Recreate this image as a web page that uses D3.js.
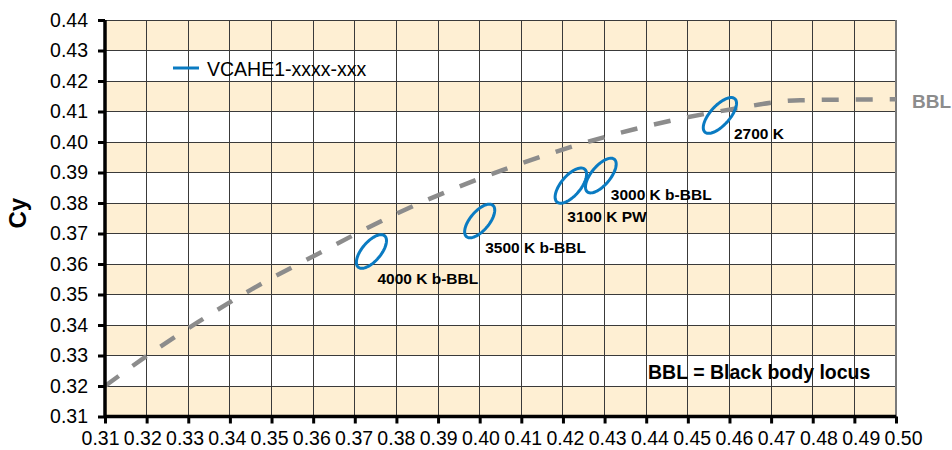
<!DOCTYPE html>
<html>
<head>
<meta charset="utf-8">
<script src="https://cdn.jsdelivr.net/npm/d3@7"></script>
<style>
  body { margin: 0; background: #fff; }
  text { font-family: "Liberation Sans", Arial, sans-serif; }
</style>
</head>
<body>
<svg width="952" height="450"></svg>
<script>
// tick values
let xTickValues = [0.31, 0.32, 0.33, 0.34, 0.35, 0.36, 0.37, 0.38, 0.39, 0.40,
  0.41, 0.42, 0.43, 0.44, 0.45, 0.46, 0.47, 0.48, 0.49, 0.50]
let yTickValues = [0.31, 0.32, 0.33, 0.34, 0.35, 0.36, 0.37, 0.38, 0.39, 0.40,
  0.41, 0.42, 0.43, 0.44]

// black body locus (Cx, Cy)
let bblX = [0.3100, 0.3221, 0.3325, 0.3451, 0.3611, 0.3805, 0.4053, 0.4369, 0.4599, 0.4770, 0.5000]
let bblY = [0.3200, 0.3318, 0.3411, 0.3516, 0.3633, 0.3768, 0.3907, 0.4041, 0.4106, 0.4137, 0.4140]

// colour ellipses
let ellipseNames = ['4000 K b-BBL', '3500 K b-BBL', '3100 K PW', '3000 K b-BBL', '2700 K']
let ellipseCx = [0.3740, 0.4000, 0.4219, 0.4291, 0.4577]
let ellipseCy = [0.3641, 0.3741, 0.3857, 0.3890, 0.4087]
let ellipseA = [0.0061, 0.0061, 0.0064, 0.0063, 0.0066]
let ellipseB = [0.0025, 0.0025, 0.0026, 0.0025, 0.0026]
let ellipseAngle = [62, 62, 62, 62, 60]

let seriesName = 'VCAHE1-xxxx-xxx'

let width = 952
let height = 450
let margin = { top: 20, bottom: 33.5, left: 105, right: 56 }

let blue = '#0a7bc2'
let grey = '#8c8c8c'

let xScale = d3.scaleLinear()
  .domain([0.31, 0.50])
  .range([margin.left, width - margin.right])
let yScale = d3.scaleLinear()
  .domain([0.31, 0.44])
  .range([height - margin.bottom, margin.top])
// tick labels are spread a little wider than the ticks
let xLabelScale = d3.scaleLinear()
  .domain([0.31, 0.50])
  .range([margin.left - 5, width - margin.right + 7])

let svg = d3.select('svg')

// beige bands
let bandStarts = yTickValues.filter((d, i) => i % 2 == 0 && i < yTickValues.length - 1)
svg.append('g')
  .selectAll('rect')
  .data(bandStarts)
  .enter()
  .append('rect')
  .attr('x', xScale(0.31))
  .attr('width', xScale(0.50) - xScale(0.31))
  .attr('y', d => yScale(d + 0.01))
  .attr('height', d => yScale(d) - yScale(d + 0.01))
  .attr('fill', '#feefd3')

// grid
let grid = svg.append('g')
  .attr('stroke', '#3a3a3a')
  .attr('stroke-width', 1)
  .attr('shape-rendering', 'crispEdges')
grid.selectAll('.vl')
  .data(xTickValues)
  .enter()
  .append('line')
  .attr('x1', d => xScale(d))
  .attr('x2', d => xScale(d))
  .attr('y1', yScale(0.31))
  .attr('y2', yScale(0.44))
grid.selectAll('.hl')
  .data(yTickValues)
  .enter()
  .append('line')
  .attr('y1', d => yScale(d))
  .attr('y2', d => yScale(d))
  .attr('x1', xScale(0.31))
  .attr('x2', xScale(0.50))

svg.append('line')
  .attr('x1', xScale(0.50))
  .attr('x2', xScale(0.50))
  .attr('y1', yScale(0.31))
  .attr('y2', yScale(0.44))
  .attr('stroke', '#7a7a7a')
  .attr('stroke-width', 2)

// black body locus
let bbl = bblX.map((x, i) => ({ x: x, y: bblY[i] }))
let bblLine = d3.line()
  .x(d => xScale(d.x))
  .y(d => yScale(d.y))
  .curve(d3.curveMonotoneX)
svg.append('path')
  .datum(bbl)
  .attr('d', bblLine)
  .attr('fill', 'none')
  .attr('stroke', grey)
  .attr('stroke-width', 4.5)
  .attr('stroke-dasharray', '17,17')

svg.append('text')
  .attr('x', xScale(0.50) + 16)
  .attr('y', yScale(bblY[bblY.length - 1]) + 9)
  .attr('font-size', 19)
  .attr('font-weight', 'bold')
  .attr('fill', grey)
  .text('BBL')

// ellipses
let ellipsePoints = i => {
  let th = ellipseAngle[i] * Math.PI / 180
  return d3.range(0, 73).map(k => {
    let t = k / 72 * 2 * Math.PI
    return {
      x: ellipseCx[i] + ellipseA[i] * Math.cos(th) * Math.cos(t) - ellipseB[i] * Math.sin(th) * Math.sin(t),
      y: ellipseCy[i] + ellipseA[i] * Math.sin(th) * Math.cos(t) + ellipseB[i] * Math.cos(th) * Math.sin(t)
    }
  })
}
let ellipseLine = d3.line()
  .x(d => xScale(d.x))
  .y(d => yScale(d.y))
  .curve(d3.curveLinearClosed)

svg.append('g')
  .selectAll('path')
  .data(ellipseNames)
  .enter()
  .append('path')
  .attr('d', (d, i) => ellipseLine(ellipsePoints(i)))
  .attr('fill', 'none')
  .attr('stroke', blue)
  .attr('stroke-width', 3)

// label offsets from ellipse centre, px
let labelOffsets = [[6, 32.5], [5.5, 32], [-3.5, 36], [10, 24], [14, 23.5]]
svg.append('g')
  .selectAll('text')
  .data(ellipseNames)
  .enter()
  .append('text')
  .attr('x', (d, i) => xScale(ellipseCx[i]) + labelOffsets[i][0])
  .attr('y', (d, i) => yScale(ellipseCy[i]) + labelOffsets[i][1])
  .attr('font-size', 15.5)
  .attr('font-weight', 'bold')
  .attr('fill', '#000')
  .text(d => d)

// note
svg.append('text')
  .attr('x', 648)
  .attr('y', 379)
  .attr('font-size', 19.5)
  .attr('font-weight', 'bold')
  .text('BBL = Black body locus')

// legend
svg.append('line')
  .attr('x1', 173)
  .attr('x2', 199)
  .attr('y1', 68)
  .attr('y2', 68)
  .attr('stroke', blue)
  .attr('stroke-width', 3)
svg.append('text')
  .attr('x', 207)
  .attr('y', 76)
  .attr('font-size', 19.5)
  .text(seriesName)

// axes
let xAxis = d3.axisBottom(xScale)
  .tickValues(xTickValues)
  .tickFormat(d3.format('.2f'))
  .tickSize(7)
  .tickPadding(8)
let yAxis = d3.axisLeft(yScale)
  .tickValues(yTickValues)
  .tickFormat(d3.format('.2f'))
  .tickSize(7)
  .tickPadding(10)

let gx = svg.append('g')
  .attr('transform', 'translate(' + [0, height - margin.bottom] + ')')
  .call(xAxis)
let gy = svg.append('g')
  .attr('transform', 'translate(' + [margin.left, 0] + ')')
  .call(yAxis)

for (let g of [gx, gy]) {
  g.select('.domain').attr('stroke', '#000').attr('stroke-width', 3.5)
  g.selectAll('.tick line').attr('stroke', '#000').attr('stroke-width', 3)
  g.selectAll('.tick text')
    .attr('font-family', '"Liberation Sans", Arial, sans-serif')
    .attr('font-size', 19.5)
    .attr('fill', '#000')
}
gx.selectAll('.tick text').attr('dx', d => xLabelScale(d) - xScale(d))
gx.select('.domain').attr('d', 'M' + xScale(0.31) + ',0H' + xScale(0.50))
gy.select('.domain').attr('d', 'M0,' + yScale(0.31) + 'V' + yScale(0.44))

svg.append('text')
  .attr('transform', 'translate(26,' + (yScale(0.375) - 5) + ') rotate(-90)')
  .attr('text-anchor', 'middle')
  .attr('font-size', 24)
  .attr('font-weight', 'bold')
  .text('Cy')
</script>
</body>
</html>
